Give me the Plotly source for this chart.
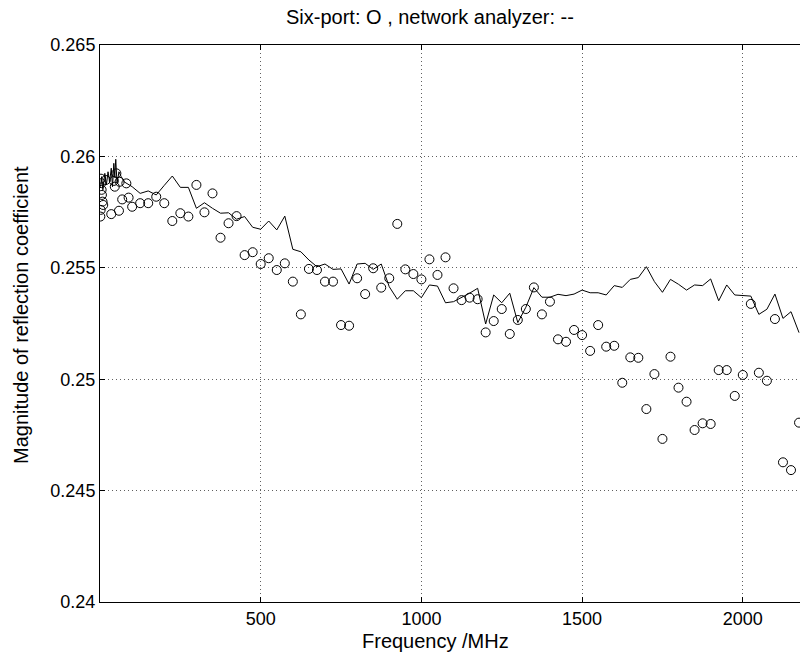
import plotly.graph_objects as go

# Six-port measurement (circles)
sixport_freq = [1, 2, 3, 4, 5, 6, 8, 10, 18, 35, 43, 46, 51, 59, 61, 69, 82, 89,
                100, 125, 150, 175, 200, 225, 250, 275, 300, 325, 350, 375, 400,
                425, 450, 475, 500, 525, 550, 575, 600, 625, 650, 675, 700, 725,
                750, 775, 800, 825, 850, 875, 900, 925, 950, 975, 1000, 1025,
                1050, 1075, 1100, 1125, 1150, 1175, 1200, 1225, 1250, 1275, 1300,
                1325, 1350, 1375, 1400, 1425, 1450, 1475, 1500, 1525, 1550, 1575,
                1600, 1625, 1650, 1675, 1700, 1725, 1750, 1775, 1800, 1825, 1850,
                1875, 1900, 1925, 1950, 1975, 2000, 2025, 2050, 2075, 2100, 2125,
                2150, 2175]
sixport_mag = [0.2573, 0.2576, 0.2590, 0.2588, 0.2585, 0.25827, 0.25797, 0.25782,
               0.25894, 0.25741, 0.2589, 0.25864, 0.25924, 0.25756, 0.25886,
               0.25807, 0.25879, 0.25815,
               0.25774, 0.2579, 0.2579, 0.25819, 0.2579, 0.2571, 0.25745, 0.2573,
               0.25872, 0.25749, 0.25834, 0.25635, 0.2570, 0.25732, 0.25557,
               0.2557, 0.25517, 0.25543, 0.2549, 0.2552, 0.25438, 0.25291,
               0.25495, 0.2549, 0.25438, 0.25438, 0.25243, 0.25240, 0.25453,
               0.25382, 0.25498, 0.25411, 0.25453, 0.25697, 0.25493, 0.25472,
               0.25448, 0.25538, 0.25468, 0.25547, 0.25408, 0.25355, 0.25366,
               0.25359, 0.2521, 0.25261, 0.25315, 0.25203, 0.25266, 0.25315,
               0.25412, 0.25291, 0.25348, 0.25179, 0.25168, 0.25221, 0.25198,
               0.25127, 0.25243, 0.25146, 0.2515, 0.24984, 0.25098, 0.25096,
               0.24866, 0.25023, 0.24732, 0.25101, 0.24962, 0.24899, 0.24772,
               0.24802, 0.24799, 0.25041, 0.25041, 0.24925, 0.25019, 0.25338,
               0.25029, 0.24993, 0.2527, 0.24627, 0.24592, 0.24805]

# Network analyzer measurement (solid line)
analyzer_freq = [2, 5, 9, 15, 20, 25, 30, 35, 39, 43, 46, 49, 53, 59, 66, 75,
                 100, 125, 150, 175, 200, 225, 250, 275, 300, 325, 350, 375, 400,
                 425, 450, 475, 500, 525, 550, 575, 600, 625, 650, 675, 700, 725,
                 750, 775, 800, 825, 850, 875, 900, 925, 950, 975, 1000, 1025,
                 1050, 1075, 1100, 1125, 1150, 1175, 1200, 1225, 1250, 1275, 1300,
                 1325, 1350, 1375, 1400, 1425, 1450, 1475, 1500, 1525, 1550, 1575,
                 1600, 1625, 1650, 1675, 1700, 1725, 1750, 1775, 1800, 1825, 1850,
                 1875, 1900, 1925, 1950, 1975, 2000, 2025, 2050, 2075, 2100, 2125,
                 2150, 2175]
analyzer_mag = [0.25864, 0.25909, 0.2585, 0.25924, 0.25872, 0.25931, 0.25886,
                0.25947, 0.25864, 0.25969, 0.25909, 0.25987, 0.25879, 0.25931,
                0.25909, 0.25886,
                0.25864, 0.25834, 0.25845, 0.25827, 0.2587, 0.25912, 0.25861,
                0.25861, 0.25767, 0.25792, 0.25767, 0.25745, 0.25747, 0.25718,
                0.2573, 0.25682, 0.25673, 0.2571, 0.2567, 0.25732, 0.25583,
                0.25572, 0.25535, 0.25505, 0.25517, 0.25493, 0.25495, 0.25427,
                0.25517, 0.2552, 0.25493, 0.25517, 0.25415, 0.25359, 0.25397,
                0.25397, 0.25366, 0.25423, 0.25418, 0.25343, 0.25348, 0.25366,
                0.25386, 0.25408, 0.25248, 0.25378, 0.25343, 0.25386, 0.25254,
                0.25323, 0.25411, 0.25368, 0.25368, 0.25381, 0.25375, 0.25382,
                0.254, 0.25388, 0.25388, 0.25378, 0.2542, 0.25412, 0.25448,
                0.25456, 0.25505, 0.25438, 0.2539, 0.25448, 0.25426, 0.254,
                0.25423, 0.2542, 0.2545, 0.25352, 0.25423, 0.25378, 0.25375,
                0.25373, 0.25291, 0.25314, 0.25382, 0.25273, 0.25303, 0.25209]

x_ticks = [500, 1000, 1500, 2000]
y_ticks = [0.24, 0.245, 0.25, 0.255, 0.26, 0.265]
y_tick_text = ["0.24", "0.245", "0.25", "0.255", "0.26", "0.265"]

FONT = "Liberation Sans, Arial, Helvetica, sans-serif"
TICK_SIZE = 18
LABEL_SIZE = 20

W, H = 800, 662
ML, MR, MT, MB = 100, 0, 45, 60
PW = W - ML - MR
PH = H - MT - MB


def px_to_paper_x(px):
    return (px - ML) / PW


def px_to_paper_y(py):
    return (H - MB - py) / PH


fig = go.Figure()
fig.add_trace(go.Scatter(
    x=analyzer_freq, y=analyzer_mag, mode="lines",
    line=dict(color="black", width=1), showlegend=False,
))
fig.add_trace(go.Scatter(
    x=sixport_freq, y=sixport_mag, mode="markers",
    marker=dict(symbol="circle-open", size=9, color="black",
                line=dict(color="black", width=1)),
    showlegend=False,
))

label_font = dict(family=FONT, size=LABEL_SIZE, color="black")
fig.update_layout(
    width=W, height=H,
    margin=dict(l=ML, r=MR, t=MT, b=MB),
    paper_bgcolor="white", plot_bgcolor="white",
    font=dict(family=FONT, size=TICK_SIZE, color="black"),
    annotations=[
        dict(text="Six-port: O , network analyzer: --", xref="paper", yref="paper",
             x=px_to_paper_x(430), y=px_to_paper_y(17), xanchor="center",
             yanchor="middle", showarrow=False, font=label_font),
        dict(text="Frequency /MHz", xref="paper", yref="paper",
             x=px_to_paper_x(435), y=px_to_paper_y(641), xanchor="center",
             yanchor="middle", showarrow=False, font=label_font),
        dict(text="Magnitude of reflection coefficient", xref="paper",
             yref="paper", x=px_to_paper_x(21), y=px_to_paper_y(315),
             xanchor="center", yanchor="middle", textangle=-90,
             showarrow=False, font=label_font),
    ],
)
grid_style = dict(showgrid=True, gridcolor="#606060", griddash="1px,3px",
                  gridwidth=1, zeroline=False)
fig.update_xaxes(
    range=[0, 2178], tickvals=x_ticks, ticks="inside", ticklen=5,
    tickcolor="black", showline=True, linecolor="black", linewidth=1,
    mirror="ticks", **grid_style,
)
fig.update_yaxes(
    range=[0.24, 0.265], tickvals=y_ticks, ticktext=y_tick_text,
    ticks="inside", ticklen=5, tickcolor="black", showline=True,
    linecolor="black", linewidth=1, mirror=False, **grid_style,
)

fig.write_html("out.html")
